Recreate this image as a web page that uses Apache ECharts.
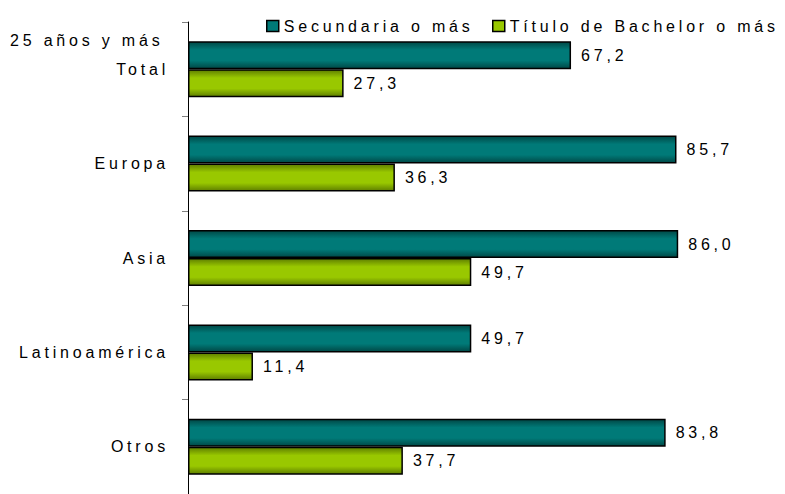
<!DOCTYPE html>
<html>
<head>
<meta charset="utf-8">
<script src="https://cdn.jsdelivr.net/npm/echarts@6/dist/echarts.min.js"></script>
<style>
  html, body { margin: 0; padding: 0; background: #fff; }
  #main { width: 785px; height: 494px; }
  /* the original chart draws its text with wide letter spacing */
  #main text { letter-spacing: 3.8px !important; }
</style>
</head>
<body>
<div id="main"></div>
<script>
var categories = ['Total', 'Europa', 'Asia', 'Latinoamérica', 'Otros'];
var secundaria = [67.2, 85.7, 86.0, 49.7, 83.8];
var bachelor = [27.3, 36.3, 49.7, 11.4, 37.7];
var seriesNames = ['Secundaria o más', 'Título de Bachelor o más'];

var chart = echarts.init(document.getElementById('main'), null, { renderer: 'svg' });

function grad(edge, mid) {
  return new echarts.graphic.LinearGradient(0, 0, 0, 1, [
    { offset: 0, color: edge },
    { offset: 0.3, color: mid },
    { offset: 0.7, color: mid },
    { offset: 1, color: edge }
  ]);
}

var fontFam = '"Liberation Sans", Arial, sans-serif';
var colors = ['#007a78', '#99c800'];

function fmt(p) {
  return p.value.toFixed(1).replace('.', ',');
}

function legendAt(i, left) {
  return {
    top: 13,
    left: left,
    icon: 'rect',
    itemWidth: 12,
    itemHeight: 11,
    textStyle: { fontSize: 16, color: '#000', fontFamily: fontFam },
    data: [{ name: seriesNames[i], itemStyle: { color: colors[i], borderColor: '#000', borderWidth: 1.5 } }]
  };
}

var option = {
  animation: false,
  textStyle: { fontFamily: fontFam },
  legend: [legendAt(0, 261), legendAt(1, 487)],
  graphic: [{
    type: 'text',
    left: 10,
    top: 32,
    style: { text: '25 años y más', fill: '#000', font: '16px ' + fontFam }
  }],
  grid: { left: 188, top: 22, right: 27, height: 478 },
  xAxis: {
    type: 'value',
    min: 0,
    max: 100,
    show: false
  },
  yAxis: {
    type: 'category',
    inverse: true,
    data: categories,
    axisLine: { show: true, lineStyle: { color: '#000', width: 1 } },
    axisTick: { show: true, length: 6, lineStyle: { color: '#808080', width: 1 } },
    axisLabel: { margin: 19, fontSize: 16, color: '#000', fontFamily: fontFam }
  },
  series: [
    {
      name: seriesNames[0],
      type: 'bar',
      data: secundaria,
      barWidth: 28,
      barGap: '0%',
      itemStyle: { color: grad('#004846', colors[0]), borderColor: '#000', borderWidth: 1.5 },
      label: { show: true, position: 'right', distance: 10, fontSize: 16, color: '#000', formatter: fmt, fontFamily: fontFam }
    },
    {
      name: seriesNames[1],
      type: 'bar',
      data: bachelor,
      barWidth: 28,
      barGap: '0%',
      itemStyle: { color: grad('#5f7f00', colors[1]), borderColor: '#000', borderWidth: 1.5 },
      label: { show: true, position: 'right', distance: 10, fontSize: 16, color: '#000', formatter: fmt, fontFamily: fontFam }
    }
  ]
};

chart.setOption(option);
</script>
</body>
</html>
